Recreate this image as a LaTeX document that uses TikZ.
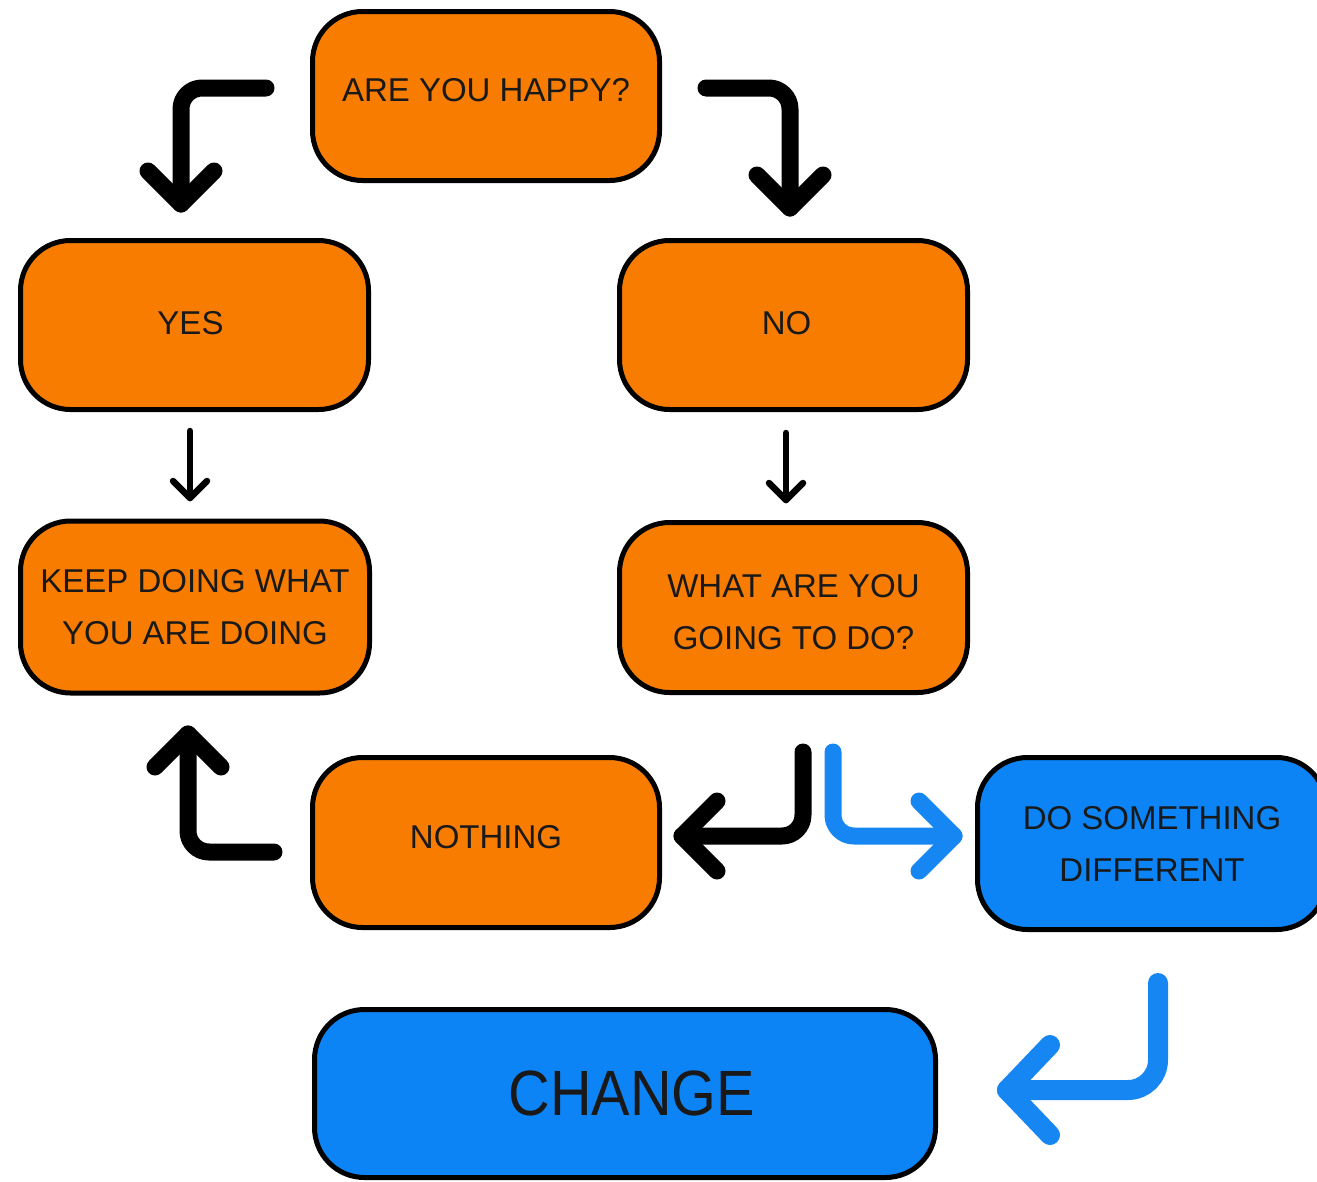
\documentclass[tikz,border=0pt]{standalone}
\usepackage{fontspec}
\setmainfont{Liberation Sans}
\usetikzlibrary{calc}
\definecolor{boxorange}{RGB}{248,124,0}
\definecolor{boxblue}{RGB}{12,132,245}
\definecolor{arrowblue}{RGB}{22,135,242}
\begin{document}
\begin{tikzpicture}[x=1pt,y=-1pt,
  box/.style={draw=black, line width=5, rounded corners=50, inner sep=0pt,
    align=center, font=\fontsize{33}{52}\selectfont, text=black!90},
  orangebox/.style={box, fill=boxorange},
  bluebox/.style={box, fill=boxblue},
  shaft/.style={line width=17, line cap=round, line join=round, rounded corners=21},
  head/.style={line width=17, line cap=round, line join=round},
  thin/.style={line width=6.5, line cap=round, line join=round}]
\useasboundingbox (0,0) rectangle (1317,1181);
\clip (0,0) rectangle (1317,1181);

% decision boxes
\node[orangebox, minimum width=347, minimum height=169, text depth=12pt] (happy) at (486,96) {ARE YOU HAPPY?};
\node[orangebox, minimum width=348, minimum height=169, text depth=4pt] (yes) at (194.5,325) {YES\hspace*{8pt}};
\node[orangebox, minimum width=348, minimum height=169, text depth=4pt] (no) at (793.5,325) {NO\hspace*{14pt}};
\node[orangebox, minimum width=349, minimum height=172] (keep) at (195,607) {KEEP DOING WHAT\\YOU ARE DOING};
\node[orangebox, minimum width=348, minimum height=170] (what) at (793.5,607.5) {\rule{0pt}{32pt}WHAT ARE YOU\\GOING TO DO?};
\node[orangebox, minimum width=347, minimum height=170, text depth=12pt] (nothing) at (486,842.5) {NOTHING};
\node[bluebox, minimum width=349, minimum height=172] (diff) at (1152,843.5) {DO SOMETHING\\DIFFERENT};
\node[bluebox, minimum width=621, minimum height=168, font=\fontsize{64}{70}\selectfont] (change) at (625,1093.5) {\hspace*{14pt}\scalebox{0.9}[1]{CHANGE}};

% end points of the connectors
\coordinate (aS) at (266,88);  \coordinate (aK) at (181,88);  \coordinate (aT) at (181,204);
\coordinate (bS) at (706,88);  \coordinate (bK) at (790,88);  \coordinate (bT) at (790,208);
\coordinate (cS) at (274,852); \coordinate (cK) at (188,852); \coordinate (cT) at (188,734);
\coordinate (dS) at (803,752); \coordinate (dK) at (803,836); \coordinate (dT) at (682,836);
\coordinate (eS) at (833,752); \coordinate (eK) at (833,836); \coordinate (eT) at (954,836);
\coordinate (fS) at (1158,983); \coordinate (fK) at (1158,1090); \coordinate (fT) at (1007,1090);
\coordinate (yS) at (190,431); \coordinate (yT) at (190,498);
\coordinate (nS) at (786,433); \coordinate (nT) at (786,500);

% happy -> yes
\draw[shaft] (aS) -- (aK) -- (aT);
\draw[head] ($(aT)+(-33,-33)$) -- (aT) -- ($(aT)+(33,-33)$);
% happy -> no
\draw[shaft] (bS) -- (bK) -- (bT);
\draw[head] ($(bT)+(-33,-33)$) -- (bT) -- ($(bT)+(33,-33)$);
% yes -> keep doing
\draw[thin] (yS) -- (yT);
\draw[thin] ($(yT)+(-17,-17)$) -- (yT) -- ($(yT)+(17,-17)$);
% no -> what
\draw[thin] (nS) -- (nT);
\draw[thin] ($(nT)+(-17,-17)$) -- (nT) -- ($(nT)+(17,-17)$);
% nothing -> keep doing
\draw[shaft] (cS) -- (cK) -- (cT);
\draw[head] ($(cT)+(-33,33)$) -- (cT) -- ($(cT)+(33,33)$);
% what -> nothing
\draw[shaft] (dS) -- (dK) -- (dT);
\draw[head] ($(dT)+(35,-35)$) -- (dT) -- ($(dT)+(35,35)$);
% what -> do something different
\draw[shaft, draw=arrowblue] (eS) -- (eK) -- (eT);
\draw[head, draw=arrowblue] ($(eT)+(-35,-35)$) -- (eT) -- ($(eT)+(-35,35)$);
% do something different -> change
\draw[shaft, draw=arrowblue, line width=20, rounded corners=30] (fS) -- (fK) -- (fT);
\draw[head, draw=arrowblue, line width=20] ($(fT)+(43,-45)$) -- (fT) -- ($(fT)+(43,45)$);
\end{tikzpicture}
\end{document}
